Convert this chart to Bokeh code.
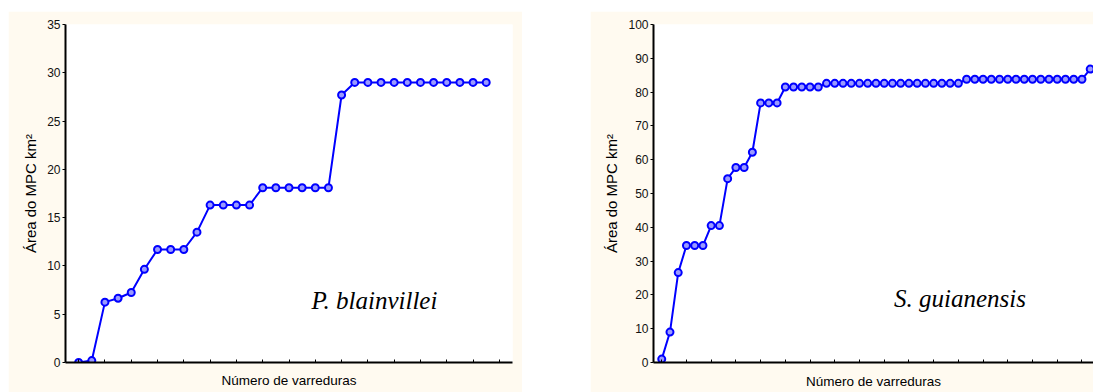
from bokeh.plotting import figure
from bokeh.layouts import row, column
from bokeh.models import Spacer, FixedTicker, Label, ColumnDataSource
from bokeh.embed import file_html
from bokeh.resources import INLINE

# ---- data ----
left_scans = list(range(1, 33))
left_area = [0.0, 0.2, 6.25, 6.65, 7.25, 9.65, 11.7, 11.7, 11.7, 13.5,
             16.3, 16.3, 16.3, 16.3, 18.1, 18.1, 18.1, 18.1, 18.1, 18.1,
             27.7, 29.0, 29.0, 29.0, 29.0, 29.0, 29.0, 29.0, 29.0, 29.0,
             29.0, 29.0]
left_species = "P. blainvillei"
left_yticks = [0, 5, 10, 15, 20, 25, 30, 35]
left_xticks = list(range(1, 34, 2))

right_scans = list(range(1, 54))
right_area = [1.0, 9.0, 26.6, 34.6, 34.6, 34.6, 40.5, 40.5, 54.4, 57.7,
              57.7, 62.2, 76.8, 76.8, 76.8, 81.5, 81.5, 81.5, 81.5, 81.5,
              82.6, 82.6, 82.6, 82.6, 82.6, 82.6, 82.6, 82.6, 82.6, 82.6,
              82.6, 82.6, 82.6, 82.6, 82.6, 82.6, 82.6,
              83.8, 83.8, 83.8, 83.8, 83.8, 83.8, 83.8, 83.8, 83.8, 83.8,
              83.8, 83.8, 83.8, 83.8, 83.8, 86.8]
right_species = "S. guianensis"
right_yticks = [0, 10, 20, 30, 40, 50, 60, 70, 80, 90, 100]
right_xticks = list(range(1, 54, 3))

x_label = "Número de varreduras"
y_label = "Área do MPC km²"

CREAM = "#FFFAF0"
BLUE = "#0000FF"
SANS = "Liberation Sans"


def make_panel(xs, ys, yticks, xticks, x_end, y_end, species, sx, sy,
               width, border_left, border_right, border_top, border_bottom,
               xlabel_standoff):
    p = figure(width=width, height=381, output_backend="svg",
               toolbar_location=None, x_range=(0, x_end), y_range=(0, y_end),
               min_border_left=border_left, min_border_right=border_right,
               min_border_top=border_top, min_border_bottom=border_bottom)
    p.background_fill_color = "white"
    p.border_fill_color = CREAM
    p.outline_line_color = None
    p.grid.visible = False

    src = ColumnDataSource(dict(x=xs, y=ys))
    p.line("x", "y", source=src, line_color=BLUE, line_width=2)
    p.scatter("x", "y", source=src, size=7, line_color=BLUE,
              fill_color="#9A9AFF", line_width=2)

    p.yaxis.ticker = FixedTicker(ticks=yticks)
    p.xaxis.ticker = FixedTicker(ticks=xticks)
    for ax in (p.xaxis[0], p.yaxis[0]):
        ax.axis_line_width = 2
        ax.axis_line_color = "black"
        ax.major_tick_line_color = "black"
        ax.major_tick_line_width = 1
        ax.minor_tick_line_color = None
        ax.axis_label_text_font = SANS
        ax.axis_label_text_font_style = "normal"
        ax.axis_label_text_color = "black"
        ax.major_label_text_font = SANS
        ax.major_label_text_color = "#111111"
    p.yaxis.major_tick_out = 3
    p.yaxis.major_tick_in = 0
    p.yaxis.major_label_text_font_size = "12px"
    p.yaxis.major_label_standoff = 2
    p.yaxis.axis_label = y_label
    p.yaxis.axis_label_text_font_size = "15px"
    p.yaxis.axis_label_standoff = 5

    p.xaxis.major_tick_in = 3
    p.xaxis.major_tick_out = 0
    p.xaxis.major_label_overrides = {t: "" for t in xticks}
    p.xaxis.major_label_text_font_size = "12px"
    p.xaxis.major_label_standoff = 0
    p.xaxis.axis_label = x_label
    p.xaxis.axis_label_text_font_size = "13.5px"
    p.xaxis.axis_label_standoff = xlabel_standoff

    p.add_layout(Label(x=sx, y=sy, text=species, text_align="center",
                       text_baseline="alphabetic",
                       text_font="Liberation Serif", text_font_style="italic",
                       text_font_size="25px", text_color="black"))
    return p


p1 = make_panel(left_scans, left_area, left_yticks, left_xticks,
                34, 35, left_species, 23.5, 6.4,
                width=514, border_left=57, border_right=10,
                border_top=12, border_bottom=30, xlabel_standoff=10)
p2 = make_panel(right_scans, right_area, right_yticks, right_xticks,
                53.4, 100, right_species, 37.2, 18.8,
                width=503, border_left=63, border_right=0,
                border_top=13, border_bottom=28, xlabel_standoff=11)

layout = column(Spacer(height=11),
                row(Spacer(width=8), p1, Spacer(width=68), p2))

with open("out.html", "w") as f:
    f.write(file_html(layout, INLINE))
